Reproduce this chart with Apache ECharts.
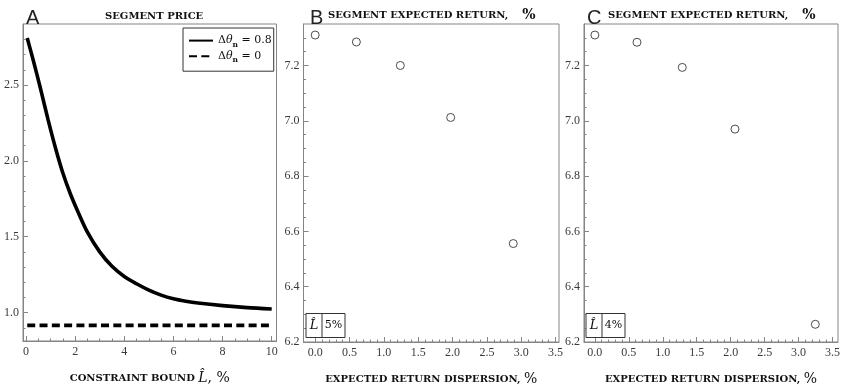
<!DOCTYPE html>
<html><head><meta charset="utf-8">
<script src="https://cdn.jsdelivr.net/npm/echarts@6/dist/echarts.min.js"></script>
<style>html,body{margin:0;padding:0;background:#fff}#c{width:841px;height:386px}</style>
</head><body><div id="c"></div>
<script>
// ---- data ----
const priceX = [0.05,0.3,0.6,0.9,1.2,1.5,1.8,2.1,2.5,3,3.5,4,4.5,5,5.5,6,6.5,7,8,9,10];
const priceY = [2.81,2.66,2.47,2.27,2.085,1.92,1.785,1.67,1.53,1.40,1.305,1.238,1.19,1.148,1.115,1.091,1.075,1.063,1.046,1.033,1.024];
const baseX = [0.05, 10];
const baseY = [0.916, 0.916];
const dispB = [0, 0.60, 1.24, 1.973, 2.884];
const retB  = [7.31, 7.285, 7.20, 7.012, 6.556];
const dispC = [0, 0.62, 1.287, 2.063, 3.246];
const retC  = [7.31, 7.284, 7.193, 6.97, 6.264];
// ---- ticks ----
const ticksAX = [0,2,4,6,8,10];
const ticksAY = [1.0,1.5,2.0,2.5];
const ticksBX = [0,0.5,1.0,1.5,2.0,2.5,3.0,3.5];
const ticksBY = [6.2,6.4,6.6,6.8,7.0,7.2];
const minorAX = [0.5,1,1.5,2.5,3,3.5,4.5,5,5.5,6.5,7,7.5,8.5,9,9.5];
const minorAY = [0.9,1.1,1.2,1.3,1.4,1.6,1.7,1.8,1.9,2.1,2.2,2.3,2.4,2.6,2.7,2.8];
const minorBX = [];
for (let i = 1; i < 35; i++) if (i % 5) minorBX.push(+(i/10).toFixed(2));
const minorBY = [];
for (let i = 1; i <= 22; i++) if (i % 4) minorBY.push(+(6.2 + i*0.05).toFixed(2));

const GRAY = '#858585';
const LBL = '#3a3a3a';
const SERIF = 'DejaVu Serif';
const TSERIF = 'Liberation Serif';

const G = [
  {left:23, top:24, width:253.5, height:317},
  {left:303.5, top:24, width:255.5, height:318},
  {left:584, top:24, width:254, height:318}
];
const RX = [[-0.122, 10.195], [-0.17, 3.55], [-0.16, 3.58]];
const RY = [[0.813, 2.902], [6.2, 7.35], [6.2, 7.35]];

const nameRich = {
  sc:{fontFamily:SERIF, fontWeight:'bold', fontSize:10, color:'#111'},
  it:{fontFamily:SERIF, fontStyle:'italic', fontSize:14, color:'#111'},
  rg:{fontFamily:SERIF, fontSize:14, color:'#111'}
};
const xNames = [
  '{sc|CONSTRAINT BOUND }{it|L\u0302}{rg|, %}',
  '{sc|EXPECTED RETURN DISPERSION, }{rg|%}',
  '{sc|EXPECTED RETURN DISPERSION, }{rg|%}'
];
const majX = [ticksAX, ticksBX, ticksBX];
const majY = [ticksAY, ticksBY, ticksBY];
const minX = [minorAX, minorBX, minorBX];
const minY = [minorAY, minorBY, minorBY];
const fmtX = [v => String(Math.round(v)), v => v.toFixed(1), v => v.toFixed(1)];

const grids = [], xAxes = [], yAxes = [];
G.forEach((g, i) => grids.push(Object.assign({show:true, borderColor:GRAY, borderWidth:1, outerBoundsMode:'none', containLabel:false}, g)));
G.forEach((g, i) => grids.push(Object.assign({show:false, outerBoundsMode:'none', containLabel:false}, g)));
for (let i = 0; i < 3; i++) {
  xAxes.push({
    gridIndex:i, type:'value', min:RX[i][0], max:RX[i][1],
    axisLine:{show:true, onZero:false, lineStyle:{color:GRAY}},
    axisTick:{show:true, inside:true, length:5, customValues:majX[i], lineStyle:{color:GRAY}},
    axisLabel:{customValues:majX[i], formatter:fmtX[i], margin:5, color:LBL, fontFamily:TSERIF, fontSize:12},
    splitLine:{show:false},
    name:xNames[i], nameLocation:'middle', nameGap:30, nameTextStyle:{rich:nameRich}
  });
  yAxes.push({
    gridIndex:i, type:'value', min:RY[i][0], max:RY[i][1],
    axisLine:{show:true, onZero:false, lineStyle:{color:GRAY}},
    axisTick:{show:true, inside:true, length:5, customValues:majY[i], lineStyle:{color:GRAY}},
    axisLabel:{customValues:majY[i], formatter:v => v.toFixed(1), margin:4, color:LBL, fontFamily:TSERIF, fontSize:12},
    splitLine:{show:false}
  });
}
for (let i = 0; i < 3; i++) {
  xAxes.push({
    gridIndex:3+i, type:'value', min:RX[i][0], max:RX[i][1],
    axisLine:{show:false, onZero:false},
    axisTick:{show:true, inside:true, length:2.5, customValues:minX[i], lineStyle:{color:GRAY}},
    axisLabel:{show:false}, splitLine:{show:false}
  });
  yAxes.push({
    gridIndex:3+i, type:'value', min:RY[i][0], max:RY[i][1],
    axisLine:{show:false, onZero:false},
    axisTick:{show:true, inside:true, length:2.5, customValues:minY[i], lineStyle:{color:GRAY}},
    axisLabel:{show:false}, splitLine:{show:false}
  });
}

const titleSC = {fontFamily:SERIF, fontWeight:'bold', fontSize:10, color:'#111'};
const letterStyle = {fontFamily:'Liberation Sans', fontSize:20, fontWeight:'normal', color:'#222'};
const titleRich = {sc:titleSC, pc:{fontFamily:SERIF, fontSize:14, color:'#111', padding:[0,0,0,14]}};

const legRich = {
  d:{fontFamily:SERIF, fontSize:11, color:'#111', lineHeight:16},
  t:{fontFamily:SERIF, fontStyle:'italic', fontSize:11, color:'#111', lineHeight:16},
  n:{fontFamily:SERIF, fontWeight:'bold', fontSize:7.5, color:'#111', lineHeight:10, verticalAlign:'bottom'},
  r:{fontFamily:SERIF, fontSize:11, color:'#111', lineHeight:16}
};

function annot(x0, label) {
  const y0 = 313.5, w = 39, h = 24, dx = 16;
  return [
    {type:'rect', z:100, shape:{x:x0+0.5, y:y0, width:w, height:h}, style:{fill:'#fff', stroke:'#333', lineWidth:1}},
    {type:'line', z:101, shape:{x1:x0+dx+0.5, y1:y0, x2:x0+dx+0.5, y2:y0+h}, style:{stroke:'#333', lineWidth:1}},
    {type:'text', z:102, x:x0+dx/2+0.5, y:y0+h/2, style:{text:'L\u0302', font:'italic 13px "DejaVu Serif"', fill:'#111', align:'center', verticalAlign:'middle'}},
    {type:'text', z:102, x:x0+dx+(w-dx)/2+0.5, y:y0+h/2, style:{text:label, font:'11px "DejaVu Serif"', fill:'#111', align:'center', verticalAlign:'middle'}}
  ];
}

const option = {
  animation:false,
  backgroundColor:'#fff',
  title:[
    {text:'A', left:21, top:3, textStyle:letterStyle},
    {text:'SEGMENT PRICE', left:100, top:6, textStyle:titleSC},
    {text:'B', left:305, top:3, textStyle:letterStyle},
    {text:'{sc|SEGMENT EXPECTED RETURN,}{pc|%}', left:323, top:3, textStyle:{rich:titleRich}},
    {text:'C', left:582, top:3, textStyle:letterStyle},
    {text:'{sc|SEGMENT EXPECTED RETURN,}{pc|%}', left:603, top:3, textStyle:{rich:titleRich}}
  ],
  legend:{
    orient:'vertical', left:183, top:28, padding:[7,2,7,5], itemGap:2, itemWidth:24, itemHeight:14,
    borderColor:'#333', borderWidth:1, backgroundColor:'#fff', selectedMode:false,
    itemStyle:{opacity:0},
    data:['a','b'],
    formatter: n => n === 'a' ? '{d|\u0394}{t|\u03b8}{n|n}{r| = 0.8}' : '{d|\u0394}{t|\u03b8}{n|n}{r| = 0}',
    textStyle:{rich:legRich}
  },
  grid:grids, xAxis:xAxes, yAxis:yAxes,
  series:[
    {name:'a', type:'line', xAxisIndex:0, yAxisIndex:0, symbol:'none', smooth:0.3, color:'#000',
     lineStyle:{color:'#000', width:3.6}, data:priceX.map((x,i)=>[x,priceY[i]])},
    {name:'b', type:'line', xAxisIndex:0, yAxisIndex:0, symbol:'none', color:'#000',
     lineStyle:{color:'#000', width:3.6, type:[8,4.3], cap:'butt'}, data:baseX.map((x,i)=>[x,baseY[i]])},
    {name:'B', type:'scatter', xAxisIndex:1, yAxisIndex:1, symbol:'circle', symbolSize:8,
     itemStyle:{color:'#fff', borderColor:'#222', borderWidth:1}, data:dispB.map((x,i)=>[x,retB[i]])},
    {name:'C', type:'scatter', xAxisIndex:2, yAxisIndex:2, symbol:'circle', symbolSize:8,
     itemStyle:{color:'#fff', borderColor:'#222', borderWidth:1}, data:dispC.map((x,i)=>[x,retC[i]])}
  ],
  graphic:[].concat(annot(305.5, '5%'), annot(585.5, '4%'))
};
const chart = echarts.init(document.getElementById('c'), null, {renderer:'canvas'});
chart.setOption(option);
</script>
</body></html>
